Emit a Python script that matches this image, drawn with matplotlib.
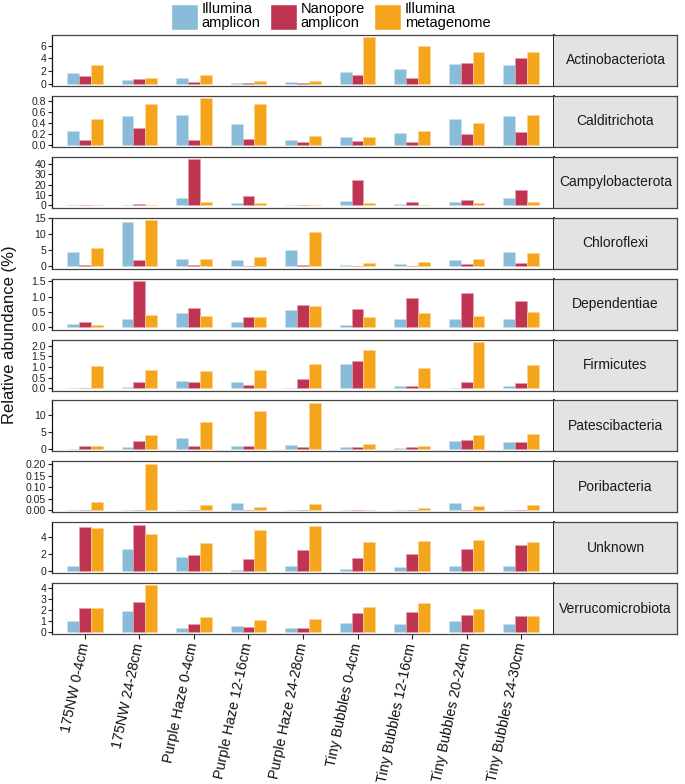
import matplotlib
matplotlib.use("Agg")
import matplotlib.pyplot as plt
from matplotlib.patches import Patch
import numpy as np

plt.rcParams['font.family'] = ['Liberation Sans', 'DejaVu Sans']

samples = ["175NW 0-4cm", "175NW 24-28cm", "Purple Haze 0-4cm", "Purple Haze 12-16cm",
           "Purple Haze 24-28cm", "Tiny Bubbles 0-4cm", "Tiny Bubbles 12-16cm",
           "Tiny Bubbles 20-24cm", "Tiny Bubbles 24-30cm"]

phyla = ["Actinobacteriota", "Calditrichota", "Campylobacterota", "Chloroflexi",
         "Dependentiae", "Firmicutes", "Patescibacteria", "Poribacteria",
         "Unknown", "Verrucomicrobiota"]

methods = ["Illumina\namplicon", "Nanopore\namplicon", "Illumina\nmetagenome"]

# relative abundance (%) per phylum (rows) and sample (columns)
illumina_amplicon = [
    [1.7, 0.6, 0.85, 0.15, 0.2, 1.9, 2.3, 3.1, 2.9],
    [0.25, 0.52, 0.55, 0.38, 0.08, 0.13, 0.21, 0.47, 0.52],
    [0.1, 0.2, 7.2, 2.8, 0.5, 4.7, 1.0, 3.75, 7.2],
    [4.3, 13.7, 2.4, 1.9, 5.1, 0.4, 0.8, 2.0, 4.4],
    [0.11, 0.28, 0.47, 0.18, 0.56, 0.07, 0.26, 0.27, 0.26],
    [0.0, 0.05, 0.34, 0.28, 0.02, 1.13, 0.08, 0.02, 0.11],
    [0.0, 0.7, 3.3, 0.9, 1.3, 0.6, 0.2, 2.5, 2.0],
    [0.0, 0.0, 0.0, 0.031, 0.0, 0.0, 0.0, 0.029, 0.0],
    [0.62, 2.56, 1.63, 0.08, 0.62, 0.27, 0.43, 0.58, 0.54],
    [0.98, 1.88, 0.36, 0.57, 0.33, 0.84, 0.69, 0.96, 0.69],
]
nanopore_amplicon = [
    [1.2, 0.8, 0.25, 0.15, 0.1, 1.3, 0.9, 3.3, 4.0],
    [0.09, 0.30, 0.09, 0.11, 0.05, 0.07, 0.04, 0.19, 0.23],
    [0.1, 1.0, 44.4, 8.75, 0.8, 24.0, 3.1, 5.6, 14.4],
    [0.4, 2.0, 0.3, 0.1, 0.3, 0.2, 0.2, 0.7, 1.1],
    [0.18, 1.51, 0.62, 0.35, 0.71, 0.61, 0.95, 1.12, 0.85],
    [0.0, 0.3, 0.3, 0.15, 0.43, 1.29, 0.12, 0.31, 0.26],
    [1.0, 2.5, 0.8, 1.0, 0.5, 0.7, 0.5, 2.6, 2.2],
    [0.0, 0.0, 0.0, 0.0, 0.0, 0.0, 0.0, 0.0, 0.0],
    [5.13, 5.48, 1.83, 1.4, 2.45, 1.48, 1.98, 2.56, 3.1],
    [2.15, 2.72, 0.75, 0.48, 0.33, 1.76, 1.85, 1.55, 1.4],
]
illumina_metagenome = [
    [3.0, 0.9, 1.4, 0.5, 0.5, 7.3, 6.0, 5.0, 5.0],
    [0.46, 0.74, 0.85, 0.75, 0.16, 0.13, 0.25, 0.39, 0.55],
    [0.1, 0.1, 3.1, 2.5, 0.8, 2.5, 0.9, 1.9, 3.4],
    [5.6, 14.2, 2.3, 2.8, 10.5, 1.1, 1.5, 2.3, 4.1],
    [0.09, 0.39, 0.36, 0.32, 0.69, 0.32, 0.47, 0.38, 0.51],
    [1.02, 0.87, 0.81, 0.87, 1.12, 1.81, 0.95, 2.18, 1.1],
    [1.0, 4.1, 8.2, 11.3, 13.8, 1.6, 1.0, 4.1, 4.4],
    [0.033, 0.203, 0.023, 0.011, 0.026, 0.0, 0.007, 0.016, 0.023],
    [5.09, 4.35, 3.3, 4.85, 5.36, 3.42, 3.53, 3.61, 3.42],
    [2.2, 4.24, 1.31, 1.04, 1.19, 2.24, 2.63, 2.12, 1.43],
]

yticks = [
    [0, 2, 4, 6],
    [0.0, 0.2, 0.4, 0.6, 0.8],
    [0, 10, 20, 30, 40],
    [0, 5, 10, 15],
    [0.0, 0.5, 1.0, 1.5],
    [0.0, 0.5, 1.0, 1.5, 2.0],
    [0, 5, 10],
    [0.00, 0.05, 0.10, 0.15, 0.20],
    [0, 2, 4],
    [0, 1, 2, 3, 4],
]
ytick_fmt = ["%d", "%.1f", "%d", "%d", "%.1f", "%.1f", "%d", "%.2f", "%d", "%d"]

colors = ["#89BCD9", "#BE3451", "#F5A51B"]
edges = ["#C6E0EE", "#E3A0AE", "#FBD48E"]

W, H = 685, 784
fig = plt.figure(figsize=(W / 100, H / 100), dpi=100)

left, right, strip_r = 52, 554, 677
top0, ph, gap = 35, 51, 9.9
bw = 0.217
x = np.arange(len(samples))
series = [illumina_amplicon, nanopore_amplicon, illumina_metagenome]

for i, name in enumerate(phyla):
    top = top0 + i * (ph + gap)
    ax = fig.add_axes([left / W, 1 - (top + ph) / H, (right - left) / W, ph / H])
    for j, data in enumerate(series):
        ax.bar(x + (j - 1) * bw, data[i], width=bw, color=colors[j],
               edgecolor=edges[j], linewidth=0.5)
    ymax = max(max(s[i]) for s in series)
    ax.set_ylim(-0.05 * ymax, 1.05 * ymax)
    ax.set_xlim(-0.6, len(samples) - 0.4)
    ax.set_yticks(yticks[i])
    ax.set_yticklabels([ytick_fmt[i] % v for v in yticks[i]])
    ax.tick_params(axis='y', labelsize=7.6, length=3, width=0.8, pad=1.2,
                   colors='#222222')
    for sp in ax.spines.values():
        sp.set_color('#444444')
        sp.set_linewidth(0.9)
    ax.spines['left'].set_color('#111111')
    ax.spines['right'].set_color('#111111')
    ax.spines['right'].set_linewidth(1.3)
    if i == len(phyla) - 1:
        ax.set_xticks(x)
        ax.set_xticklabels(samples, rotation=78, ha='right', va='center',
                           rotation_mode='anchor', fontsize=10.3)
        ax.tick_params(axis='x', length=3.5, width=0.8, pad=3, colors='#222222')
        for lab in ax.get_xticklabels():
            lab.set_color('#111111')
    else:
        ax.set_xticks([])

    sx = fig.add_axes([right / W, 1 - (top + ph) / H, (strip_r - right) / W, ph / H])
    sx.set_facecolor('#E3E3E3')
    sx.set_xticks([])
    sx.set_yticks([])
    for sp in sx.spines.values():
        sp.set_color('#444444')
        sp.set_linewidth(0.9)
    sx.spines['left'].set_visible(False)
    sx.text(0.5, 0.5, name, ha='center', va='center', fontsize=10,
            color='#1a1a1a', transform=sx.transAxes)

fig.text(10 / W, 1 - 335 / H, "Relative abundance (%)", rotation=90,
         ha='center', va='center', fontsize=12, color='#111111')

handles = [Patch(facecolor=c, edgecolor='white', linewidth=1) for c in colors]
leg = fig.legend(handles, methods, loc='upper center', bbox_to_anchor=(0.483, 1.008),
                 ncol=3, frameon=False, fontsize=10.5, handlelength=1.85,
                 handleheight=2.4, handletextpad=0.25, columnspacing=0.65,
                 borderpad=0.1)
for t in leg.get_texts():
    t.set_linespacing(0.95)

fig.savefig("out.png", dpi=100)
